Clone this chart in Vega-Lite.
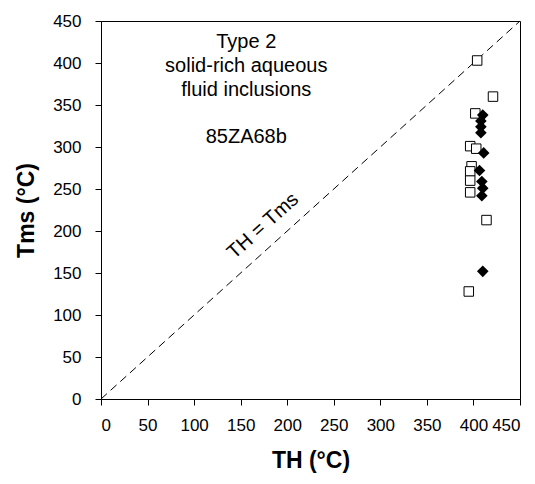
{
  "$schema": "https://vega.github.io/schema/vega-lite/v6.json",
  "width": 419,
  "height": 378,
  "autosize": {"type": "none"},
  "padding": {"left": 101, "top": 21, "right": 15, "bottom": 85},
  "background": "white",
  "config": {
    "font": "Liberation Sans",
    "view": {"stroke": "black", "strokeWidth": 1},
    "axis": {
      "domainColor": "black",
      "tickColor": "black",
      "labelColor": "black",
      "titleColor": "black",
      "grid": false,
      "labelFont": "Liberation Sans",
      "titleFont": "Liberation Sans",
      "labelFontSize": 17,
      "titleFontSize": 23,
      "titleFontWeight": "bold",
      "tickSize": 6
    }
  },
  "datasets": {
    "points": [
      {"TH": 404, "Tms": 403, "kind": "open"},
      {"TH": 421, "Tms": 360, "kind": "open"},
      {"TH": 402, "Tms": 340, "kind": "open"},
      {"TH": 396.5, "Tms": 301, "kind": "open"},
      {"TH": 403, "Tms": 298, "kind": "open"},
      {"TH": 398, "Tms": 277, "kind": "open"},
      {"TH": 396.5, "Tms": 271, "kind": "open"},
      {"TH": 396.5, "Tms": 260, "kind": "open"},
      {"TH": 396.5, "Tms": 246, "kind": "open"},
      {"TH": 414, "Tms": 213, "kind": "open"},
      {"TH": 395, "Tms": 128, "kind": "open"},
      {"TH": 410, "Tms": 338, "kind": "filled"},
      {"TH": 408, "Tms": 331, "kind": "filled"},
      {"TH": 408, "Tms": 324, "kind": "filled"},
      {"TH": 408, "Tms": 317, "kind": "filled"},
      {"TH": 411, "Tms": 293, "kind": "filled"},
      {"TH": 406.5, "Tms": 272, "kind": "filled"},
      {"TH": 409, "Tms": 259, "kind": "filled"},
      {"TH": 410, "Tms": 251, "kind": "filled"},
      {"TH": 409, "Tms": 242, "kind": "filled"},
      {"TH": 410, "Tms": 152, "kind": "filled"}
    ],
    "diag": [
      {"TH": 0, "Tms": 0},
      {"TH": 450, "Tms": 450}
    ],
    "notes": [
      {"TH": 156, "Tms": 425, "label": "Type 2"},
      {"TH": 156, "Tms": 396, "label": "solid-rich aqueous"},
      {"TH": 156, "Tms": 368, "label": "fluid inclusions"},
      {"TH": 156, "Tms": 312, "label": "85ZA68b"}
    ],
    "diaglabel": [
      {"TH": 174, "Tms": 206, "label": "TH = Tms"}
    ]
  },
  "encoding": {
    "x": {
      "field": "TH",
      "type": "quantitative",
      "scale": {"domain": [0, 450], "nice": false, "zero": false},
      "axis": {"values": [0, 50, 100, 150, 200, 250, 300, 350, 400, 450], "title": "TH (°C)", "labelPadding": 12, "titlePadding": 16}
    },
    "y": {
      "field": "Tms",
      "type": "quantitative",
      "scale": {"domain": [0, 450], "nice": false, "zero": false},
      "axis": {"values": [0, 50, 100, 150, 200, 250, 300, 350, 400, 450], "title": "Tms (°C)", "labelPadding": 14, "titlePadding": 14}
    }
  },
  "layer": [
    {
      "data": {"name": "diag"},
      "mark": {"type": "line", "color": "black", "strokeWidth": 1, "strokeDash": [8, 5]}
    },
    {
      "data": {"name": "points"},
      "transform": [{"filter": "datum.kind === 'open'"}],
      "mark": {"type": "point", "shape": "square", "filled": false, "fill": "white", "fillOpacity": 1, "stroke": "black", "strokeWidth": 1, "size": 90, "opacity": 1}
    },
    {
      "data": {"name": "points"},
      "transform": [{"filter": "datum.kind === 'filled'"}],
      "mark": {"type": "point", "shape": "diamond", "filled": true, "color": "black", "size": 135, "opacity": 1}
    },
    {
      "data": {"name": "notes"},
      "mark": {"type": "text", "font": "Liberation Sans", "fontSize": 20, "color": "black", "align": "center", "baseline": "middle"},
      "encoding": {"text": {"field": "label"}}
    },
    {
      "data": {"name": "diaglabel"},
      "mark": {"type": "text", "font": "Liberation Sans", "fontSize": 20, "color": "black", "align": "center", "baseline": "middle", "angle": 318},
      "encoding": {"text": {"field": "label"}}
    }
  ]
}
